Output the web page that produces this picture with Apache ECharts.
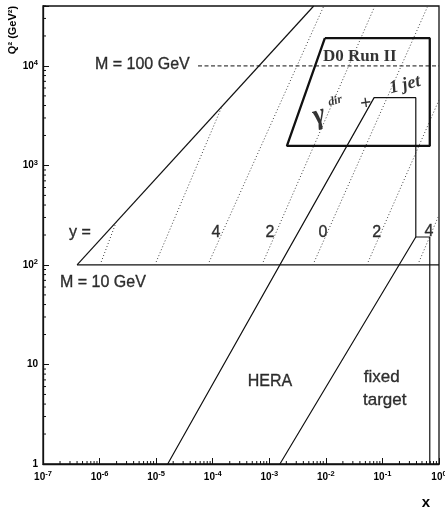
<!DOCTYPE html>
<html><head><meta charset="utf-8">
<script src="https://cdn.jsdelivr.net/npm/echarts@6/dist/echarts.min.js"></script>
<style>html,body{margin:0;padding:0;background:#fff}#c{width:445px;height:511px}</style>
</head><body><div id="c"></div>
<script>
// ---- axis ticks ----
const xTickValues = [1e-7, 1e-6, 1e-5, 1e-4, 1e-3, 1e-2, 1e-1, 1];
const xTickLabels = ['10{s|-7}', '10{s|-6}', '10{s|-5}', '10{s|-4}', '10{s|-3}', '10{s|-2}', '10{s|-1}', '10{s|0}'];
const yTickValues = [1, 10, 100, 1000, 10000];
const yTickLabels = ['1', '10', '10{s|2}', '10{s|3}', '10{s|4}'];
const minorMult = [2, 3, 4, 5, 6, 7, 8, 9];
const xDecades = [1e-7, 1e-6, 1e-5, 1e-4, 1e-3, 1e-2, 1e-1];
const yDecades = [1, 10, 100, 1000, 10000];
const xMin = 1e-7, xMax = 1, yMin = 1, yMax = 40000;

// ---- lines (x, Q^2) ----
const diagLine = [[4.0e-7, 100], [6.1e-3, 40000]];
const m10Line = [[4.0e-7, 100], [1, 100]];
const m100Line = [[5.5e-5, 1e4], [1, 1e4]];
const rapidityLines = [
  [[1.02e-6, 100], [1.97e-6, 270]],
  [[9.5e-6, 100], [1.42e-4, 3790]],
  [[8.2e-5, 100], [9.2e-3, 40000]],
  [[7.4e-4, 100], [0.0735, 40000]],
  [[5.9e-3, 100], [0.634, 40000]],
  [[0.053, 100], [1, 4550]],
  [[0.42, 100], [1, 318]]
];
const d0Box = [[0.0096, 19000], [0.687, 19000], [0.687, 1570], [0.00205, 1570], [0.0096, 19000]];
const heraLine = [[1.6e-5, 1], [0.0713, 4800], [0.389, 4800], [0.389, 191], [1.54e-3, 1]];
const fixedLine = [[0.389, 191], [0.687, 191], [0.687, 1]];

// ---- annotations ----
const annotText = ['M = 100 GeV', 'M = 10 GeV', 'y =', '4', '2', '0', '2', '4', 'HERA', 'fixed', 'target'];
const annotPos = [[8.3e-7, 10230], [2.0e-7, 66], [4.5e-7, 210], [1.14e-4, 210], [1.03e-3, 210], [8.85e-3, 210], [0.0796, 210], [0.661, 214], [1.03e-3, 6.67], [0.0975, 7.48], [0.110, 4.40]];
const annotAlign = ['left', 'left', 'center', 'center', 'center', 'center', 'center', 'center', 'center', 'center', 'center'];
const annotSize = [16, 16, 16, 16, 16, 16, 16, 16, 16, 17, 17];

const d0Text = ['D0 Run II', 'γ', 'dir', '+', '1 jet'];
const d0Pos = [[0.0399, 12300], [7.6e-3, 3150], [0.0146, 4450], [0.0509, 4150], [0.249, 6440]];
const d0Size = [17, 29, 12, 20, 18];
const d0Rot = [0, 18, 15, 8, 14];
const d0Style = ['normal', 'italic', 'italic', 'normal', 'italic'];

const chart = echarts.init(document.getElementById('c'), null, {renderer: 'canvas'});

const ink = '#111';
function lineSeries(data, style) {
  return {type: 'line', data: data, symbol: 'none', silent: true, animation: false,
    lineStyle: Object.assign({color: ink, width: 1.2}, style)};
}

const series = [];
series.push(lineSeries(diagLine, {}));
series.push(lineSeries(m10Line, {}));
series.push(lineSeries(m100Line, {type: [4, 2.5], width: 1}));
rapidityLines.forEach(function (seg) {
  series.push(lineSeries(seg, {type: [1, 2.2], width: 1, color: '#444'}));
});
series.push(lineSeries(d0Box, {width: 2.3}));
series.push(lineSeries(heraLine, {}));
series.push(lineSeries(fixedLine, {}));

// minor ticks
const xMinor = [], yMinor = [];
xDecades.forEach(function (d) { minorMult.forEach(function (m) { xMinor.push([d * m, yMin]); }); });
yDecades.forEach(function (d) { minorMult.forEach(function (m) { if (d * m <= yMax) yMinor.push([xMin, d * m]); }); });
series.push({type: 'custom', data: xMinor, silent: true, clip: false,
  renderItem: function (params, api) {
    const p = api.coord([api.value(0), api.value(1)]);
    return {type: 'line', shape: {x1: p[0], y1: p[1], x2: p[0], y2: p[1] - 3}, style: {stroke: ink, lineWidth: 1}};
  }});
series.push({type: 'custom', data: yMinor, silent: true, clip: false,
  renderItem: function (params, api) {
    const p = api.coord([api.value(0), api.value(1)]);
    return {type: 'line', shape: {x1: p[0], y1: p[1], x2: p[0] + 3, y2: p[1]}, style: {stroke: ink, lineWidth: 1}};
  }});

// annotations
series.push({type: 'scatter', symbolSize: 1, itemStyle: {color: 'rgba(0,0,0,0)'}, silent: true,
  data: annotText.map(function (t, i) {
    return {value: annotPos[i], label: {show: true, position: 'inside', formatter: t, align: annotAlign[i],
      verticalAlign: 'middle', fontSize: annotSize[i], color: '#000', textBorderColor: '#000', textBorderWidth: 0.35,
      fontFamily: 'Liberation Sans, Arial, sans-serif'}};
  })});
series.push({type: 'scatter', symbolSize: 1, itemStyle: {color: 'rgba(0,0,0,0)'}, silent: true,
  data: d0Text.map(function (t, i) {
    return {value: d0Pos[i], label: {show: true, position: 'inside', formatter: t, align: 'center',
      verticalAlign: 'middle', fontSize: d0Size[i], rotate: d0Rot[i], fontWeight: 'bold', fontStyle: d0Style[i],
      color: '#000', fontFamily: 'Liberation Serif, Times New Roman, serif'}};
  })});

function fmtFactory(vals, labels) {
  return function (v) {
    for (let i = 0; i < vals.length; i++) {
      if (Math.abs(Math.log10(v) - Math.log10(vals[i])) < 1e-6) return labels[i];
    }
    return '';
  };
}
const rich = {
  s: {fontSize: 7.5, lineHeight: 8, verticalAlign: 'top', fontFamily: 'Liberation Sans, Arial, sans-serif', color: '#000', fontWeight: 'bold'}
};

chart.setOption({
  animation: false,
  grid: {left: 43, right: 6, top: 6, bottom: 47, show: true, borderColor: ink, borderWidth: 1.3, outerBoundsMode: 'none', containLabel: false},
  xAxis: {type: 'log', logBase: 10, min: xMin, max: xMax,
    axisLine: {show: true, lineStyle: {color: ink, width: 1.3}},
    axisTick: {show: true, inside: true, length: 6, lineStyle: {color: ink, width: 1}},
    splitLine: {show: false}, minorTick: {show: false},
    axisLabel: {margin: 6, formatter: fmtFactory(xTickValues, xTickLabels), fontSize: 10, lineHeight: 14,
      verticalAlign: 'top', color: '#000', fontWeight: 'bold', fontFamily: 'Liberation Sans, Arial, sans-serif',
      rich: {s: rich.s}}},
  yAxis: {type: 'log', logBase: 10, min: yMin, max: yMax,
    axisLine: {show: true, lineStyle: {color: ink, width: 1.3}},
    axisTick: {show: true, inside: true, length: 6, lineStyle: {color: ink, width: 1}},
    splitLine: {show: false}, minorTick: {show: false},
    axisLabel: {margin: 5, formatter: fmtFactory(yTickValues, yTickLabels), fontSize: 10, lineHeight: 14,
      color: '#000', fontWeight: 'bold', fontFamily: 'Liberation Sans, Arial, sans-serif',
      rich: {s: rich.s}}},
  graphic: [
    {type: 'text', x: 13, y: 30, rotation: Math.PI / 2,
      style: {text: 'Q² (GeV²)', fontSize: 11, fontWeight: 'bold', fill: '#000', align: 'center', verticalAlign: 'middle',
        fontFamily: 'Liberation Sans, Arial, sans-serif'}},
    {type: 'text', x: 426, y: 503,
      style: {text: 'x', fontSize: 15, fontWeight: 'bold', fill: '#000', align: 'center', verticalAlign: 'middle',
        fontFamily: 'Liberation Sans, Arial, sans-serif'}}
  ],
  series: series
});
</script></body></html>
